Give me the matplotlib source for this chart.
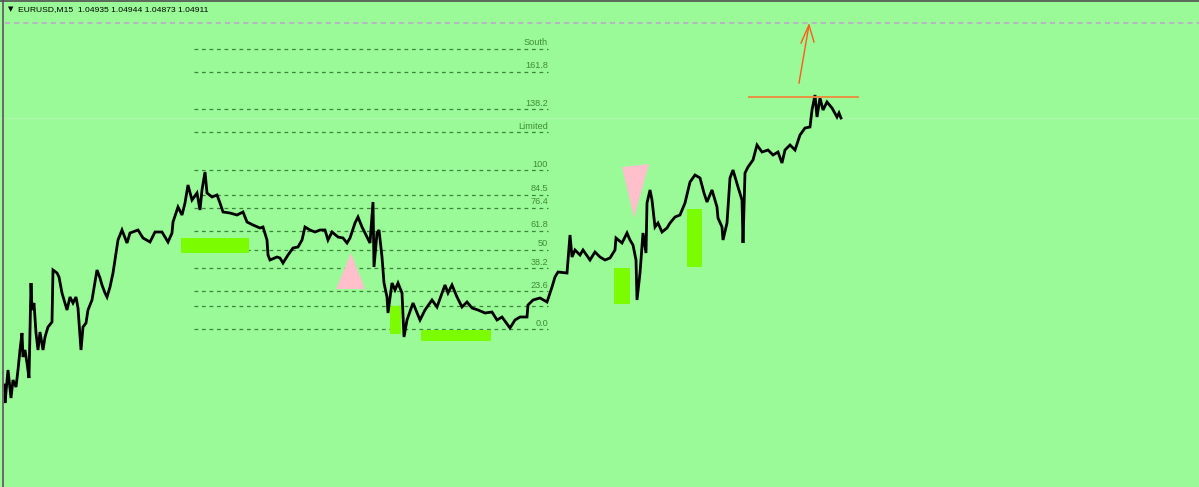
import matplotlib
matplotlib.use("Agg")
import matplotlib.pyplot as plt
from matplotlib.patches import Rectangle, Polygon
from matplotlib.lines import Line2D

# ---------------- data ----------------
symbol_header = "EURUSD,M15  1.04935 1.04944 1.04873 1.04911"

bar_idx = [4, 5, 8, 11, 13, 16, 18, 20, 22, 23, 25, 27, 29, 31, 32, 34, 36, 38, 40, 43,
           45, 48, 52, 53, 57, 59, 62, 67, 70, 73, 76, 78, 81, 83, 86, 88, 92, 97, 100, 102,
           105, 107, 110, 113, 115, 118, 122, 127, 130, 138, 143, 150, 155, 162, 168, 172, 173, 178, 182, 185,
           188, 192, 197, 200, 202, 205, 207, 212, 217, 220, 223, 230, 237, 243, 247, 253, 260, 263, 267, 268,
           270, 277, 280, 283, 288, 293, 298, 302, 305, 310, 315, 320, 325, 328, 332, 338, 343, 347, 350, 355,
           358, 362, 367, 370, 373, 374, 377, 379, 382, 384, 387, 388, 392, 395, 398, 402, 404, 407, 413, 420,
           425, 432, 437, 445, 448, 452, 457, 462, 467, 472, 478, 485, 492, 497, 502, 510, 515, 520, 527, 528,
           533, 540, 547, 552, 555, 558, 567, 570, 572, 575, 580, 583, 590, 595, 600, 605, 610, 615, 616, 622,
           627, 630, 633, 636, 637, 640, 643, 646, 647, 650, 652, 655, 658, 662, 667, 670, 675, 680, 685, 690,
           695, 700, 704, 707, 712, 717, 718, 722, 723, 727, 730, 733, 738, 742, 743, 745, 748, 753, 757, 762,
           768, 773, 778, 782, 785, 790, 795, 800, 805, 810, 812, 815, 817, 820, 823, 827, 832, 837, 839, 841]

close = [1.04377, 1.04341, 1.04407, 1.04351, 1.04387, 1.04373, 1.04407, 1.04447, 1.04481, 1.04433,
         1.04447, 1.04421, 1.04391, 1.04581, 1.04527, 1.04541, 1.04481, 1.04447, 1.04483, 1.04447,
         1.04473, 1.04493, 1.04503, 1.04607, 1.04601, 1.04593, 1.04561, 1.04527, 1.04553, 1.04541,
         1.04553, 1.04531, 1.04447, 1.04493, 1.04501, 1.04527, 1.04547, 1.04607, 1.04591, 1.04577,
         1.04561, 1.04553, 1.04573, 1.04601, 1.04627, 1.04667, 1.04687, 1.04661, 1.04681, 1.04687,
         1.04671, 1.04663, 1.04683, 1.04683, 1.04663, 1.04681, 1.04703, 1.04733, 1.04717, 1.04741,
         1.04777, 1.04747, 1.04761, 1.04727, 1.04767, 1.04803, 1.04761, 1.04753, 1.04757, 1.04741,
         1.04723, 1.04721, 1.04717, 1.04723, 1.04703, 1.04697, 1.04691, 1.04693, 1.04667, 1.04637,
         1.04627, 1.04633, 1.04631, 1.04621, 1.04637, 1.04651, 1.04653, 1.04667, 1.04693, 1.04687,
         1.04683, 1.04687, 1.04687, 1.04667, 1.04683, 1.04673, 1.04671, 1.04661, 1.04671, 1.04701,
         1.04713, 1.04693, 1.04673, 1.04661, 1.04743, 1.04613, 1.04681, 1.04687, 1.04633, 1.04581,
         1.04553, 1.04521, 1.04581, 1.04567, 1.04581, 1.04561, 1.04473, 1.04507, 1.04541, 1.04507,
         1.04527, 1.04547, 1.04533, 1.04577, 1.04561, 1.04577, 1.04553, 1.04533, 1.04543, 1.04531,
         1.04527, 1.04521, 1.04523, 1.04507, 1.04513, 1.04491, 1.04507, 1.04513, 1.04513, 1.04537,
         1.04547, 1.04551, 1.04543, 1.04573, 1.04593, 1.04603, 1.04601, 1.04677, 1.04633, 1.04647,
         1.04637, 1.04647, 1.04627, 1.04643, 1.04633, 1.04627, 1.04631, 1.04647, 1.04671, 1.04661,
         1.04681, 1.04667, 1.04657, 1.04627, 1.04547, 1.04601, 1.04681, 1.04641, 1.04741, 1.04767,
         1.04747, 1.04693, 1.04701, 1.04683, 1.04691, 1.04701, 1.04713, 1.04717, 1.04741, 1.04783,
         1.04797, 1.04791, 1.04761, 1.04743, 1.04767, 1.04733, 1.04711, 1.04693, 1.04667, 1.04701,
         1.04791, 1.04807, 1.04773, 1.04747, 1.04661, 1.04801, 1.04813, 1.04827, 1.04857, 1.04843,
         1.04847, 1.04837, 1.04843, 1.04821, 1.04847, 1.04857, 1.04847, 1.04877, 1.04891, 1.04893,
         1.04927, 1.04957, 1.04913, 1.04951, 1.04927, 1.04943, 1.04931, 1.04913, 1.04921, 1.04911]

# Fibonacci object
fib_start, fib_end = 194, 548
fib_price_0 = 1.04489
fib_price_100 = 1.04807
fib_levels = [0.0, 14.6, 23.6, 38.2, 50.0, 61.8, 76.4, 84.5, 100.0, 123.6, 138.2, 161.8, 176.4]
fib_labels = ["0.0", "", "23.6", "38.2", "50", "61.8", "76.4", "84.5", "100", "Limited", "138.2", "161.8", "South"]

# zones (x0, x1, price_low, price_high)
zone_x0 = [181, 390, 421, 614, 687]
zone_x1 = [249, 401, 491, 630, 702]
zone_lo = [1.04641, 1.04479, 1.04465, 1.04539, 1.04613]
zone_hi = [1.04671, 1.04535, 1.04487, 1.04611, 1.04729]

# triangles
tri_up_x = [336, 351, 365]
tri_up_p = [1.04569, 1.04641, 1.04569]
tri_dn_x = [622, 634, 649]
tri_dn_p = [1.04813, 1.04711, 1.04819]

# orange level + arrow
res_x = [749, 858]
res_price = 1.04954
arrow_shaft_x = [799, 809]
arrow_shaft_p = [1.04981, 1.05097]
arrow_head_x = [801, 809, 814]
arrow_head_p = [1.05061, 1.05097, 1.05063]

top_dash_price = 1.05101
bid_price = 1.04911

# ---------------- plot ----------------
W, H = 1199, 487
fig = plt.figure(figsize=(W / 100, H / 100), dpi=100)
bg = "#9afa98"
fig.patch.set_facecolor(bg)
ax = fig.add_axes([0, 0, 1, 1])
ax.set_facecolor(bg)
ax.set_xlim(0, W)
ax.set_ylim(1.04173, 1.05147)
ax.axis("off")

# top dashed line & bid line
ax.plot([5, W], [top_dash_price, top_dash_price], color="#bea6cc", lw=1.2,
        dashes=(3, 2.5), zorder=1)
ax.plot([0, W], [bid_price, bid_price], color="#aef5ac", lw=1.0, zorder=1)

# fib levels
rng = fib_price_100 - fib_price_0
for lvl, lab in zip(fib_levels, fib_labels):
    p = fib_price_0 + rng * lvl / 100.0
    ax.plot([fib_start, fib_end], [p, p], color="#3a853a", lw=0.9, dashes=(3, 3), zorder=2)
    if lab:
        ax.annotate(lab, xy=(fib_end, p), xytext=(0, 4.2), textcoords="offset points",
                    ha="right", va="center", fontsize=6.6, color="#3f8c34",
                    family="Liberation Sans", zorder=2)

# zones
for x0, x1, lo, hi in zip(zone_x0, zone_x1, zone_lo, zone_hi):
    ax.add_patch(Rectangle((x0, lo), x1 - x0, hi - lo, facecolor="#7cfc00",
                           edgecolor="none", zorder=3))

# triangles
ax.add_patch(Polygon(list(zip(tri_up_x, tri_up_p)), closed=True, facecolor="#ffc0cb",
                     edgecolor="none", zorder=3))
ax.add_patch(Polygon(list(zip(tri_dn_x, tri_dn_p)), closed=True, facecolor="#ffc0cb",
                     edgecolor="none", zorder=3))

# price
ax.plot(bar_idx, close, color="black", lw=2.0, solid_joinstyle="miter", zorder=5)

# orange resistance + arrow
ax.plot(res_x, [res_price, res_price], color="#f0883c", lw=1.3, zorder=6)
ax.plot(arrow_shaft_x, arrow_shaft_p, color="#ff5a1e", lw=1.0, zorder=6)
ax.plot(arrow_head_x, arrow_head_p, color="#ff5a1e", lw=1.0, zorder=6)

# header
fig.text(8 / W, 1 - 9.5 / H, "\u25bc", fontsize=5, color="black", ha="left", va="center",
         family="DejaVu Sans")
fig.text(18 / W, 1 - 9.5 / H, symbol_header, fontsize=6.1, color="black", ha="left",
         va="center", family="Liberation Sans")

# window borders
fig.add_artist(Line2D([3 / W, 3 / W], [0, 1], color="#6a6a6a", lw=1.4))
fig.add_artist(Line2D([0, 1], [1 - 0.5 / H, 1 - 0.5 / H], color="#505050", lw=1.2))

fig.savefig("out.png", dpi=100, facecolor=bg)
